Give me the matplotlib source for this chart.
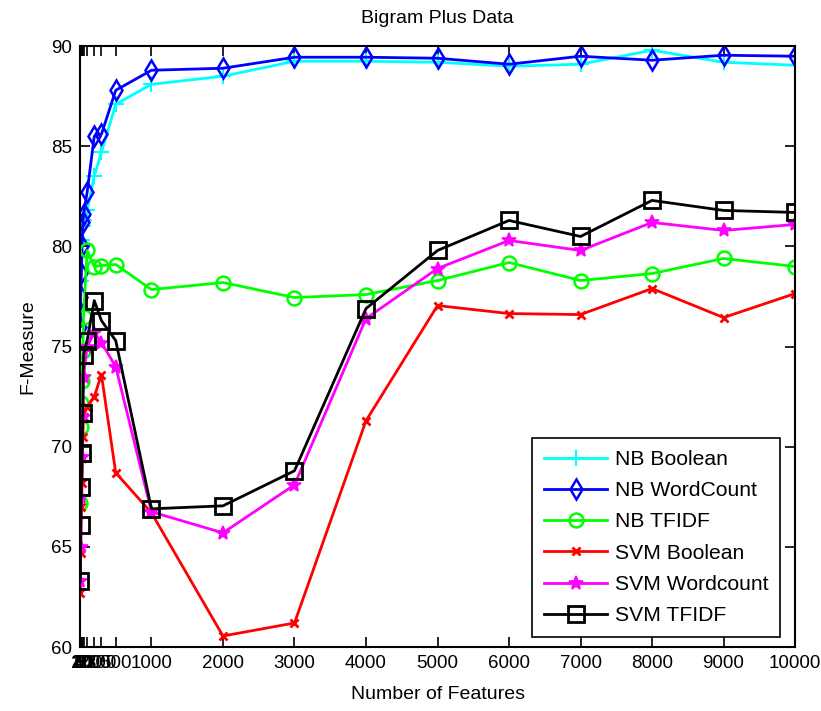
import matplotlib.pyplot as plt
import numpy as np

# Datos
features = [5, 10, 20, 30, 40, 50, 100, 200, 300, 500,
            1000, 2000, 3000, 4000, 5000, 6000, 7000, 8000, 9000, 10000]

nb_boolean = [77.0, 78.3, 79.5, 80.3, 81.0, 81.3, 81.8, 83.5, 84.7, 87.1,
              88.1, 88.5, 89.25, 89.25, 89.2, 89.0, 89.1, 89.8, 89.2, 89.05]
nb_wordcount = [76.0, 77.5, 78.7, 80.0, 81.2, 81.6, 82.7, 85.5, 85.6, 87.8,
                88.8, 88.9, 89.45, 89.45, 89.4, 89.1, 89.5, 89.3, 89.55, 89.5]
nb_tfidf = [67.2, 71.0, 72.2, 73.3, 74.8, 76.5, 79.8, 79.0, 79.05, 79.1,
            77.85, 78.2, 77.45, 77.6, 78.3, 79.2, 78.3, 78.65, 79.4, 79.0]
svm_boolean = [62.7, 64.7, 67.0, 68.2, 70.5, 71.5, 72.0, 72.5, 73.6, 68.7,
               66.7, 60.55, 61.2, 71.3, 77.05, 76.65, 76.6, 77.9, 76.45, 77.65]
svm_wordcount = [63.3, 65.0, 67.5, 69.5, 71.5, 73.5, 75.0, 75.7, 75.2, 74.0,
                 66.75, 65.7, 68.1, 76.4, 78.9, 80.3, 79.8, 81.2, 80.8, 81.1]
svm_tfidf = [63.3, 66.1, 68.0, 69.7, 71.7, 74.6, 75.3, 77.3, 76.3, 75.3,
             66.9, 67.05, 68.8, 76.9, 79.8, 81.3, 80.5, 82.3, 81.8, 81.7]

plt.rcParams['font.family'] = ['Liberation Sans', 'DejaVu Sans']
plt.rcParams['font.size'] = 13.5

fig = plt.figure(figsize=(8.21, 7.11), dpi=100)
ax = fig.add_axes([0.0974, 0.09, 0.871, 0.845])

ax.plot(features, nb_boolean, color='#00ffff', marker='+', ms=11, mew=1.5, lw=2, label='NB Boolean')
ax.plot(features, nb_wordcount, color='#0000ff', marker='d', ms=10, mfc='none', mew=1.8, lw=2, label='NB WordCount')
ax.plot(features, nb_tfidf, color='#00ff00', marker='o', ms=10, mfc='none', mew=1.8, lw=2, label='NB TFIDF')
ax.plot(features, svm_boolean, color='#ff0000', marker='x', ms=6, mew=2, lw=2, label='SVM Boolean')
ax.plot(features, svm_wordcount, color='#ff00ff', marker='*', ms=10, mew=1.2, lw=2, label='SVM Wordcount')
ax.plot(features, svm_tfidf, color='#000000', marker='s', ms=12, mfc='none', mew=2, lw=2, label='SVM TFIDF')

ax.set_xlim(0, 10000)
ax.set_ylim(60, 90)
ax.set_xticks(features)
ax.set_xticklabels([str(f) for f in features])
ax.set_yticks([60, 65, 70, 75, 80, 85, 90])
ax.tick_params(direction='in', top=True, right=True, length=7, width=1.2, pad=6)
for s in ax.spines.values():
    s.set_linewidth(1.5)

ax.set_title('Bigram Plus Data', fontsize=14, pad=17)
ax.set_xlabel('Number of Features', fontsize=14, labelpad=10)
ax.set_ylabel('F-Measure', fontsize=14, labelpad=10)

leg = ax.legend(loc='lower right', bbox_to_anchor=(0.979, 0.017), borderaxespad=0,
                fontsize=15.2, handlelength=3.0, handletextpad=0.35,
                fancybox=False, edgecolor='black', framealpha=1,
                borderpad=0.55, labelspacing=0.58)
leg.get_frame().set_linewidth(1.2)

plt.savefig('out.png', dpi=100)
